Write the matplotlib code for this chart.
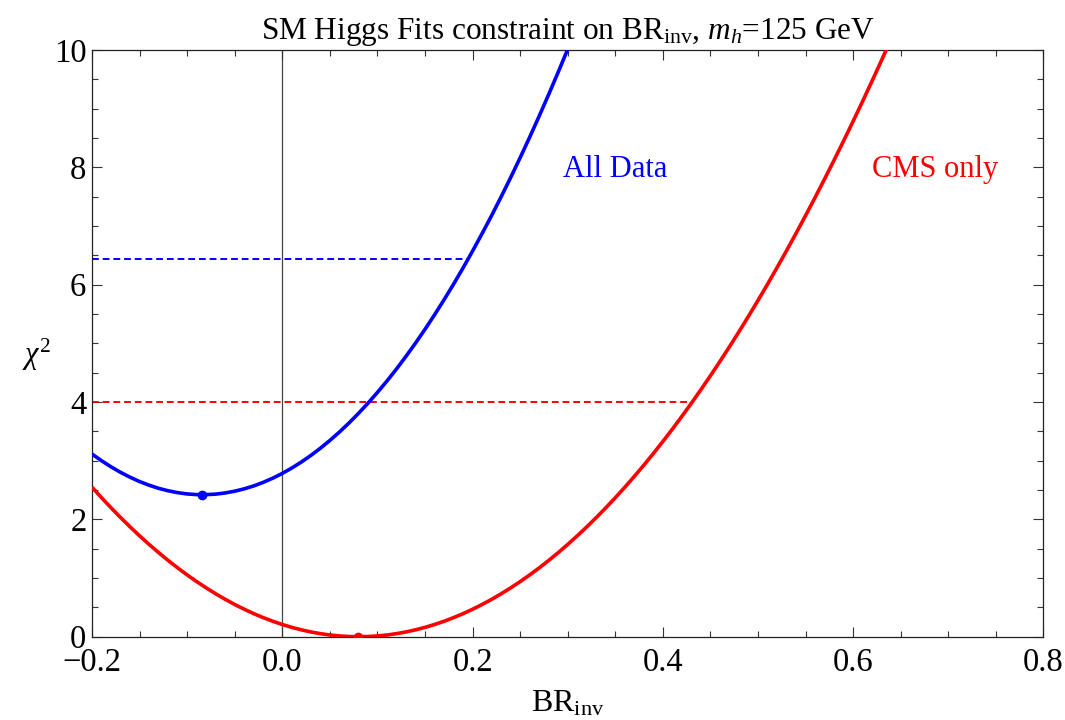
import matplotlib
matplotlib.use("Agg")
import matplotlib.pyplot as plt
from matplotlib.ticker import MultipleLocator, FixedLocator

plt.rcParams["font.family"] = ["Liberation Serif", "DejaVu Serif"]
plt.rcParams["mathtext.fontset"] = "custom"
plt.rcParams["mathtext.rm"] = "Liberation Serif"
plt.rcParams["mathtext.it"] = "Liberation Serif:italic"
plt.rcParams["axes.unicode_minus"] = True

# chi^2 profile of the invisible branching ratio, sampled every 0.01
br_inv = [-0.20, -0.19, -0.18, -0.17, -0.16, -0.15, -0.14, -0.13, -0.12, -0.11,
          -0.10, -0.09, -0.08, -0.07, -0.06, -0.05, -0.04, -0.03, -0.02, -0.01,
          0.00, 0.01, 0.02, 0.03, 0.04, 0.05, 0.06, 0.07, 0.08, 0.09,
          0.10, 0.11, 0.12, 0.13, 0.14, 0.15, 0.16, 0.17, 0.18, 0.19,
          0.20, 0.21, 0.22, 0.23, 0.24, 0.25, 0.26, 0.27, 0.28, 0.29,
          0.30, 0.31, 0.32, 0.33, 0.34, 0.35, 0.36, 0.37, 0.38, 0.39,
          0.40, 0.41, 0.42, 0.43, 0.44, 0.45, 0.46, 0.47, 0.48, 0.49,
          0.50, 0.51, 0.52, 0.53, 0.54, 0.55, 0.56, 0.57, 0.58, 0.59,
          0.60, 0.61, 0.62, 0.63, 0.64]

# global fit (all data); curve leaves the frame after BR_inv = 0.31
chi2_all = [3.113, 2.999, 2.895, 2.801, 2.718, 2.644, 2.582, 2.529, 2.487, 2.455,
            2.433, 2.422, 2.421, 2.430, 2.450, 2.480, 2.520, 2.570, 2.631, 2.702,
            2.783, 2.875, 2.977, 3.089, 3.212, 3.345, 3.488, 3.641, 3.805, 3.979,
            4.164, 4.358, 4.563, 4.779, 5.004, 5.240, 5.486, 5.743, 6.009, 6.286,
            6.574, 6.872, 7.179, 7.498, 7.826, 8.165, 8.514, 8.874, 9.244, 9.624,
            10.014, 10.415]

# CMS-only fit
chi2_cms = [2.548, 2.369, 2.197, 2.031, 1.872, 1.719, 1.573, 1.433, 1.300, 1.173,
            1.053, 0.939, 0.832, 0.731, 0.637, 0.549, 0.468, 0.393, 0.325, 0.263,
            0.208, 0.159, 0.117, 0.081, 0.052, 0.029, 0.013, 0.003, 0.000, 0.003,
            0.013, 0.029, 0.052, 0.081, 0.117, 0.159, 0.208, 0.263, 0.325, 0.393,
            0.468, 0.549, 0.637, 0.731, 0.832, 0.939, 1.053, 1.173, 1.300, 1.433,
            1.573, 1.719, 1.872, 2.031, 2.197, 2.369, 2.548, 2.733, 2.925, 3.123,
            3.328, 3.539, 3.757, 3.981, 4.212, 4.449, 4.693, 4.943, 5.200, 5.463,
            5.733, 6.009, 6.292, 6.581, 6.877, 7.179, 7.488, 7.803, 8.125, 8.453,
            8.788, 9.129, 9.477, 9.831, 10.192]

# best-fit points
best_all = (-0.084, 2.42)
best_cms = (0.080, 0.00)

# upper-limit levels and where they cross each curve
limit_all = (6.43, 0.195)
limit_cms = (4.00, 0.431)

x_ticks = [-0.2, 0.0, 0.2, 0.4, 0.6, 0.8]
x_tick_labels = ["\u22120.2", "0.0", "0.2", "0.4", "0.6", "0.8"]
y_ticks = [0, 2, 4, 6, 8, 10]

blue = "#0000ff"
red = "#ff0000"

fig = plt.figure(figsize=(10.65, 7.2), dpi=100)
ax = fig.add_axes([0.0864, 0.1157, 0.8934, 0.8149])

ax.axvline(0.0, color="#444444", lw=0.9, zorder=1)

ax.plot([-0.2, limit_all[1]], [limit_all[0]] * 2, color=blue, lw=1.4,
        ls=(0, (3.5, 2.0)), zorder=2)
ax.plot([-0.2, limit_cms[1]], [limit_cms[0]] * 2, color=red, lw=1.4,
        ls=(0, (3.5, 2.0)), zorder=2)

ax.plot(br_inv[:len(chi2_all)], chi2_all, color=blue, lw=2.6,
        solid_capstyle="butt", solid_joinstyle="round", zorder=3)
ax.plot(br_inv, chi2_cms, color=red, lw=2.6, solid_capstyle="butt",
        solid_joinstyle="round", zorder=3)

ax.plot(*best_all, "o", color=blue, ms=6, zorder=4, clip_on=False)
ax.plot(*best_cms, "o", color=red, ms=6, zorder=4)

ax.text(0.35, 7.97, "All Data", color=blue, fontsize=22,
        ha="center", va="center")
ax.text(0.686, 7.97, "CMS only", color=red, fontsize=22,
        ha="center", va="center")

ax.set_xlim(-0.2, 0.8)
ax.set_ylim(0, 10)

ax.xaxis.set_major_locator(FixedLocator(x_ticks))
ax.set_xticklabels(x_tick_labels)
ax.yaxis.set_major_locator(FixedLocator(y_ticks))
ax.xaxis.set_minor_locator(MultipleLocator(0.05))
ax.yaxis.set_minor_locator(MultipleLocator(0.5))

ax.tick_params(which="both", direction="in", top=True, right=True,
               width=0.8, color="#333333")
ax.tick_params(which="major", length=7, labelsize=23.5)
ax.tick_params(axis="x", which="major", pad=8)
ax.tick_params(axis="y", which="major", pad=4)
ax.tick_params(which="minor", length=4)

for sp in ax.spines.values():
    sp.set_linewidth(0.9)
    sp.set_color("#222222")

ax.set_title("SM Higgs Fits constraint on BR$_{\\rm inv}$, $m_h$=125 GeV",
             fontsize=22.5, pad=8)
ax.set_xlabel("BR$_{\\rm inv}$", fontsize=23, labelpad=8)
ax.set_ylabel("$\\chi^2$", fontsize=22, rotation=0, va="center")
ax.yaxis.set_label_coords(-0.058, 0.48)

fig.savefig("out.png", dpi=100)
